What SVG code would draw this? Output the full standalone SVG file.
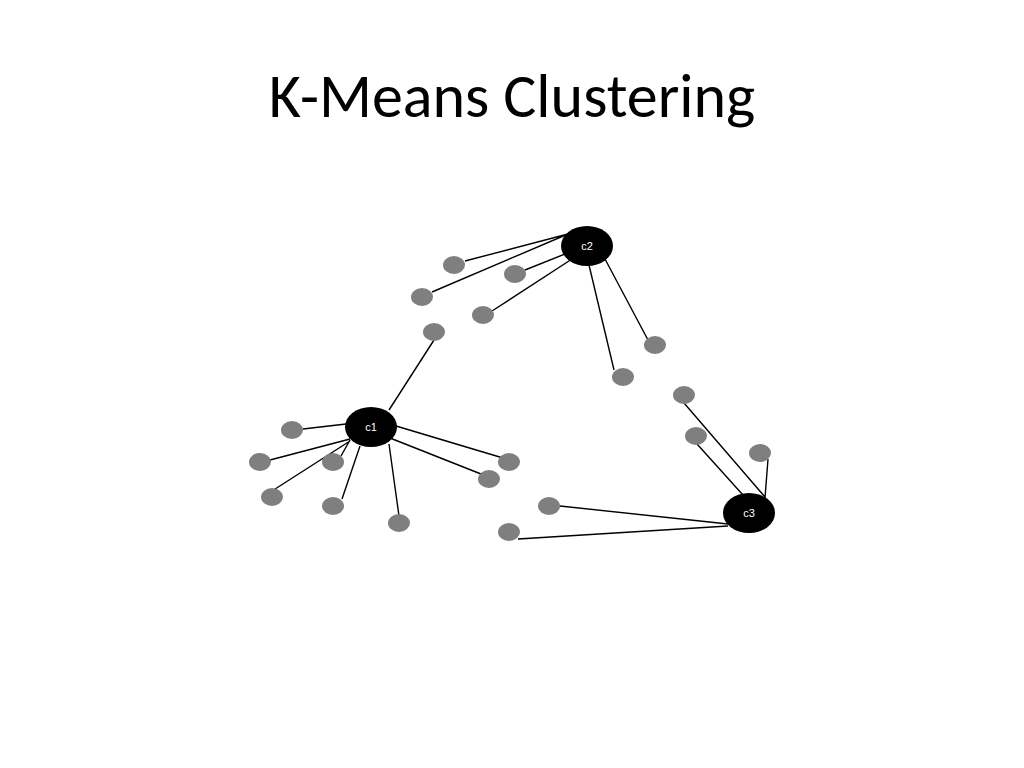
<svg xmlns="http://www.w3.org/2000/svg" width="1024" height="768" viewBox="0 0 1024 768">
<style>
.c{fill:#000}.p{fill:#7f7f7f}.l{stroke:#000;stroke-width:1.4;fill:none}
.t{font-family:"Liberation Sans",Arial,sans-serif;font-size:11px;fill:#fff;text-anchor:middle}
.h{font-family:Carlito,"Liberation Sans",Arial,sans-serif;font-size:62px;fill:#000;text-anchor:middle}
</style>
<rect width="1024" height="768" fill="#fff"/>
<text class="h" x="512" y="117">K-Means Clustering</text>
<g id="connectors">
<path class="l" d="M568 234L465 261M568 234L432 292M575 250L525 270M572 259L492 311M589 265L614 370M605 259L648 340"/>
<path class="l" d="M389 410L434 340M346 424L303 429M350 439L270 460M350 440L341 456M350 441L272 491M360 446L342 499M389 444L399 516M396 426L503 458M390 438L481 474"/>
<path class="l" d="M765 497L684 403M752 505L697 444M765 498L768 459M728 524L560 506M728 526L518 539"/>
</g>
<g id="c2"><ellipse class="c" cx="587" cy="246" rx="26" ry="20"/><text class="t" x="587" y="250">c2</text></g>
<g id="c1"><ellipse class="c" cx="371" cy="427" rx="26" ry="20"/><text class="t" x="371" y="431">c1</text></g>
<g id="c3"><ellipse class="c" cx="749" cy="513" rx="26" ry="20"/><text class="t" x="749" y="517">c3</text></g>
<g id="p1"><ellipse class="p" cx="454" cy="265" rx="11" ry="9"/></g>
<g id="p2"><ellipse class="p" cx="515" cy="274" rx="11" ry="9"/></g>
<g id="p3"><ellipse class="p" cx="422" cy="297" rx="11" ry="9"/></g>
<g id="p4"><ellipse class="p" cx="483" cy="315" rx="11" ry="9"/></g>
<g id="p5"><ellipse class="p" cx="434" cy="332" rx="11" ry="9"/></g>
<g id="p6"><ellipse class="p" cx="655" cy="345" rx="11" ry="9"/></g>
<g id="p7"><ellipse class="p" cx="623" cy="377" rx="11" ry="9"/></g>
<g id="p8"><ellipse class="p" cx="684" cy="395" rx="11" ry="9"/></g>
<g id="p9"><ellipse class="p" cx="696" cy="436" rx="11" ry="9"/></g>
<g id="p10"><ellipse class="p" cx="760" cy="453" rx="11" ry="9"/></g>
<g id="p11"><ellipse class="p" cx="292" cy="430" rx="11" ry="9"/></g>
<g id="p12"><ellipse class="p" cx="260" cy="462" rx="11" ry="9"/></g>
<g id="p13"><ellipse class="p" cx="333" cy="462" rx="11" ry="9"/></g>
<g id="p14"><ellipse class="p" cx="272" cy="497" rx="11" ry="9"/></g>
<g id="p15"><ellipse class="p" cx="333" cy="506" rx="11" ry="9"/></g>
<g id="p16"><ellipse class="p" cx="399" cy="523" rx="11" ry="9"/></g>
<g id="p17"><ellipse class="p" cx="509" cy="462" rx="11" ry="9"/></g>
<g id="p18"><ellipse class="p" cx="489" cy="479" rx="11" ry="9"/></g>
<g id="p19"><ellipse class="p" cx="549" cy="506" rx="11" ry="9"/></g>
<g id="p20"><ellipse class="p" cx="509" cy="532" rx="11" ry="9"/></g>
</svg>
